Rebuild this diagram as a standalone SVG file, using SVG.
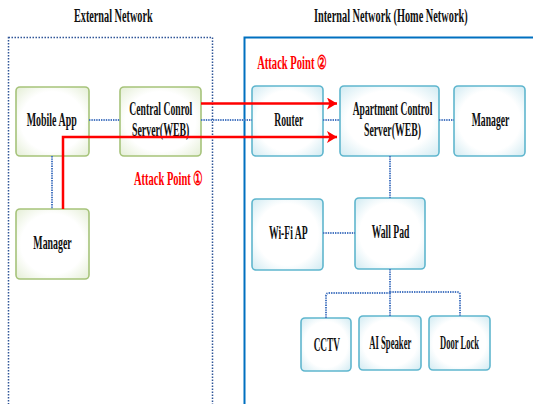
<svg xmlns="http://www.w3.org/2000/svg" width="533" height="404" viewBox="0 0 533 404">
<style>
.t{font-family:"Liberation Serif","DejaVu Serif",serif;font-weight:bold;font-size:18.5px;fill:#111;text-anchor:middle}
.r{fill:#FF0000}
.g{fill:url(#gg);stroke:#A6C37A;stroke-width:1.6}
.b{fill:url(#bg);stroke:#5FB6CE;stroke-width:1.6}
.d{fill:none;stroke:#4A78C2;stroke-width:2;stroke-dasharray:1.4 1}
.red{fill:none;stroke:#FF0000;stroke-width:2.5}
</style>
<defs>
<radialGradient id="gg" cx="0.5" cy="0.5" r="0.72">
<stop offset="0.6" stop-color="#FFFFFF"/>
<stop offset="1" stop-color="#E2EDD2"/>
</radialGradient>
<radialGradient id="bg" cx="0.5" cy="0.5" r="0.72">
<stop offset="0.6" stop-color="#FFFFFF"/>
<stop offset="1" stop-color="#CDE9F1"/>
</radialGradient>
<marker id="ah" viewBox="0 0 10 12" markerWidth="10" markerHeight="12" refX="10" refY="6" orient="auto" markerUnits="userSpaceOnUse">
<path d="M0,0 L10,6 L0,12 L2.5,6 Z" fill="#FF0000"/>
</marker>
</defs>
<rect width="533" height="404" fill="#FFFFFF"/>

<g id="regions">
<rect x="8.5" y="37.5" width="204" height="380" fill="none" stroke="#2F5597" stroke-width="1.5" stroke-dasharray="1.5 1.5"/>
<rect x="244.5" y="37.5" width="300" height="380" fill="none" stroke="#0070C0" stroke-width="2"/>
<text class="t" x="113.3" y="22" textLength="78.7" lengthAdjust="spacingAndGlyphs">External Network</text>
<text class="t" x="390.8" y="22" textLength="153.7" lengthAdjust="spacingAndGlyphs">Internal Network (Home Network)</text>
</g>

<g id="attack1"><text class="t r" x="168.5" y="185" textLength="69" lengthAdjust="spacingAndGlyphs">Attack Point ①</text></g>
<g id="attack2"><text class="t r" x="292" y="69" textLength="69.7" lengthAdjust="spacingAndGlyphs">Attack Point ②</text></g>

<g id="mobile-app"><rect class="g" x="16" y="87" width="73" height="69" rx="4"/><text class="t" x="51.7" y="126" textLength="50" lengthAdjust="spacingAndGlyphs">Mobile App</text></g>
<g id="central-control"><rect class="g" x="120" y="87" width="81" height="69" rx="4"/><text class="t" x="160.8" y="115" textLength="63" lengthAdjust="spacingAndGlyphs">Central Conrol</text><text class="t" x="160.7" y="136" textLength="57.3" lengthAdjust="spacingAndGlyphs">Server(WEB)</text></g>
<g id="manager-ext"><rect class="g" x="16" y="209" width="73" height="70" rx="4"/><text class="t" x="52.5" y="249" textLength="38.3" lengthAdjust="spacingAndGlyphs">Manager</text></g>

<g id="router"><rect class="b" x="252" y="86" width="71" height="70" rx="4"/><text class="t" x="288.8" y="126" textLength="29" lengthAdjust="spacingAndGlyphs">Router</text></g>
<g id="apartment-control"><rect class="b" x="340" y="86" width="99" height="70" rx="4"/><text class="t" x="392.5" y="115" textLength="79.7" lengthAdjust="spacingAndGlyphs">Apartment Control</text><text class="t" x="392.5" y="136" textLength="57" lengthAdjust="spacingAndGlyphs">Server(WEB)</text></g>
<g id="manager-int"><rect class="b" x="454" y="86" width="71" height="70" rx="4"/><text class="t" x="490.5" y="126" textLength="37.7" lengthAdjust="spacingAndGlyphs">Manager</text></g>
<g id="wifi-ap"><rect class="b" x="252" y="199" width="71" height="71" rx="4"/><text class="t" x="288.3" y="239" textLength="38.7" lengthAdjust="spacingAndGlyphs">Wi-Fi AP</text></g>
<g id="wall-pad"><rect class="b" x="355" y="198" width="70" height="71" rx="4"/><text class="t" x="390.5" y="238" textLength="37.7" lengthAdjust="spacingAndGlyphs">Wall Pad</text></g>
<g id="cctv"><rect class="b" x="301" y="318" width="50" height="53" rx="4"/><text class="t" x="326.8" y="351" textLength="26.3" lengthAdjust="spacingAndGlyphs">CCTV</text></g>
<g id="ai-speaker"><rect class="b" x="359" y="316" width="62" height="54" rx="4"/><text class="t" x="390.3" y="349" textLength="42" lengthAdjust="spacingAndGlyphs">AI Speaker</text></g>
<g id="door-lock"><rect class="b" x="429" y="316" width="61" height="54" rx="4"/><text class="t" x="459.5" y="349" textLength="39" lengthAdjust="spacingAndGlyphs">Door Lock</text></g>

<g id="connectors">
<path class="d" d="M89,120 H120"/>
<path class="d" d="M201,120 H252"/>
<path class="d" d="M52,156 V209"/>
<path class="d" d="M323,120 H340"/>
<path class="d" d="M439,120 H454"/>
<path class="d" d="M390,156 V198"/>
<path class="d" d="M323,233 H355"/>
<path class="d" d="M390,269 V316"/>
<path class="d" d="M326,318 V296 Q326,293 329,293 H390"/>
<path class="d" d="M390,292 H457 Q460,292 460,295 V316"/>
<path class="red" d="M201,103.5 H337" marker-end="url(#ah)"/>
<path class="red" d="M63,209 V137 H337" marker-end="url(#ah)"/>
</g>
</svg>
